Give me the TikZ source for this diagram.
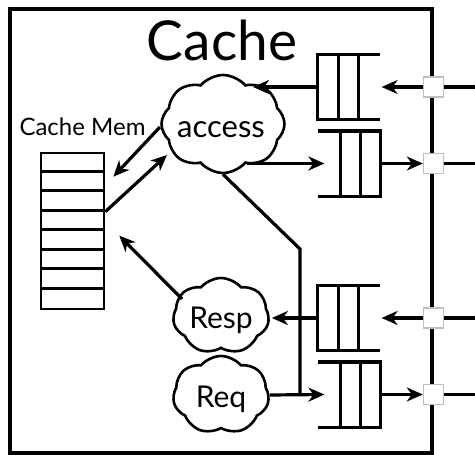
\documentclass[tikz,border=0pt]{standalone}
\usepackage{fontspec}
\setmainfont{Lato}
\usetikzlibrary{shapes.symbols,arrows.meta,calc}
\begin{document}
\begin{tikzpicture}[x=1pt,y=-1pt,line width=3.2pt,
  arr/.style={-{Stealth[length=16pt,width=14pt,inset=5pt]}},
  cl/.style={cloud,draw,line width=2.6pt,cloud ignores aspect,cloud puff arc=100,fill=white,inner sep=0pt},
  port/.style={draw=gray!50,fill=white,line width=1.6pt,minimum size=20pt,inner sep=0pt},
  qbox/.style={minimum width=59pt,minimum height=62pt,inner sep=0pt},
  memrow/.style={line width=2.6pt},
]
\useasboundingbox (0,0) rectangle (475,455);
% outer box
\node[draw,minimum width=422pt,minimum height=444pt,inner sep=0pt] (box) at (221,231) {};
\node[anchor=base,inner sep=0pt] (title) at (222,60) {\fontsize{55}{55}\selectfont Cache};
% memory
\node[draw,line width=2.6pt,minimum width=63pt,minimum height=156pt,inner sep=0pt] (mem) at (72.5,231) {};
\foreach \i in {1,...,7}{
  \draw[memrow] ($(mem.north west)+(0,19.5*\i)$) -- ($(mem.north east)+(0,19.5*\i)$);
}
\node[anchor=base,inner sep=0pt] (memlabel) at (82.5,135) {\fontsize{24}{24}\selectfont Cache Mem};
% clouds
\node[cl,cloud puffs=8,minimum width=123pt,minimum height=98pt] (access) at (223,124) {};
\node[anchor=base,inner sep=0pt] (accesslabel) at (221,137) {\fontsize{31}{31}\selectfont access};
\node[cl,cloud puffs=7,minimum width=96pt,minimum height=76pt] (resp) at (221,316) {};
\node[anchor=base,inner sep=0pt] (resplabel) at (221,328) {\fontsize{30}{30}\selectfont Resp};
\node[cl,cloud puffs=7,minimum width=96pt,minimum height=78pt] (req) at (221,395) {};
\node[anchor=base,inner sep=0pt] (reqlabel) at (221,407) {\fontsize{30}{30}\selectfont Req};
% queues
\node[qbox] (q1) at (348.5,87) {};
\node[qbox] (q2) at (349.5,163.5) {};
\node[qbox] (q3) at (348.5,318) {};
\node[qbox] (q4) at (349.5,394.5) {};
% incoming queues: closed left
\foreach \q in {q1,q3}{
  \draw (\q.north east) -- (\q.north west) -- (\q.south west) -- (\q.south east);
  \draw ($(\q.north west)+(21,0)$) -- ($(\q.south west)+(21,0)$);
  \draw ($(\q.north west)+(41,0)$) -- ($(\q.south west)+(41,0)$);
}
% outgoing queues: closed right
\foreach \q in {q2,q4}{
  \draw (\q.north west) -- (\q.north east) -- (\q.south east) -- (\q.south west);
  \draw ($(\q.north east)+(-20,0)$) -- ($(\q.south east)+(-20,0)$);
  \draw ($(\q.north east)+(-40,0)$) -- ($(\q.south east)+(-40,0)$);
}
% ports
\node[port] (p1) at (box.east |- q1) {};
\node[port] (p2) at (box.east |- q2) {};
\node[port] (p3) at (box.east |- q3) {};
\node[port] (p4) at (box.east |- q4) {};
\coordinate (e1) at (475,0 |- p1);
\coordinate (e2) at (475,0 |- p2);
\coordinate (e3) at (475,0 |- p3);
\coordinate (e4) at (475,0 |- p4);
\foreach \i in {1,2,3,4}{ \draw (p\i.east) -- (e\i); }
% connectors
\draw[arr] (p1.west) -- ([xshift=2pt]q1.east);
\draw[arr] (q1.west) -- ([xshift=30pt]access.center |- q1.west);
\draw[arr] ([xshift=24pt]access.center |- q2.west) -- ([xshift=6pt]q2.west);
\draw[arr] (q2.east) -- (p2.west);
\draw[arr] (p3.west) -- ([xshift=2pt]q3.east);
\draw[arr] (q3.west) -- ([xshift=2pt]q3.west -| resp.east);
\draw[arr] (req.east) -- ([xshift=6pt]q4.west);
\draw[arr] (q4.east) -- (p4.west);
\coordinate (bend) at (300,249);
\draw (access.south) -- (bend) -- (bend |- req.east);
% memory arrows
\coordinate (m1) at ($(mem.north east)+(8,25)$);
\coordinate (a1) at ($(access.center)+(-63,3)$);
\draw[arr] (a1) -- (m1);
\coordinate (m2) at ($(mem.north east)+(0,60)$);
\coordinate (a2) at ($(access.center)+(-56,31)$);
\draw[arr] (m2) -- (a2);
\coordinate (m3) at ($(mem.north east)+(14,84)$);
\coordinate (r1) at ($(resp.center)+(-39,-17)$);
\draw[arr] (r1) -- (m3);
\end{tikzpicture}
\end{document}
